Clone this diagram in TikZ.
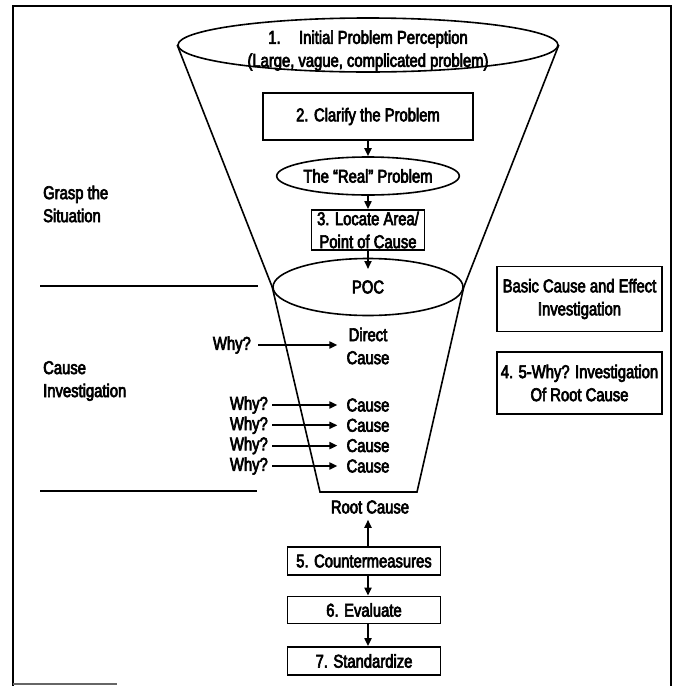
\documentclass[tikz,border=0pt]{standalone}
\usepackage{fontspec}
\setmainfont{Liberation Sans}[FakeStretch=0.80,FakeBold=3.5]
\usetikzlibrary{shapes.geometric,arrows.meta}
\begin{document}
\begin{tikzpicture}[x=1pt,y=-1pt,
  every node/.style={font=\fontsize{18.5}{23}\selectfont, inner sep=0pt, align=center},
  outline/.style={line width=1.6pt},
  stepbox/.style={draw, line width=1.7pt, rectangle},
  oval/.style={draw, line width=1.6pt, ellipse},
  arr/.style={line width=1.8pt, -{Triangle[length=8pt,width=7pt]}},
  whyarr/.style={arr, shorten <=4pt, shorten >=9pt},
  sep/.style={line width=2pt},
  frame/.style={line width=2.8pt},
  side/.style={align=left, anchor=west}]
\useasboundingbox (0,0) rectangle (679,686);

% outer frame
\draw[frame] (13,686) -- (13,6) -- (671,6) -- (671,686);
\draw[line width=1.6pt, black!60] (13,684) -- (117,684);

% vertical axis of the funnel
\coordinate (axis) at (368,0);

% mouth of the funnel
\node[oval, minimum width=380pt, minimum height=54pt] (top) at (368,45) {};
\node (toptext) at (368,50.5) {1.\quad Initial Problem Perception\\(Large, vague, complicated problem)};

% upper steps
\node[stepbox, minimum width=210pt, minimum height=47pt] (clarify) at (368,116.5) {2. Clarify the Problem};
\node[oval, minimum width=166pt, minimum height=38pt] (real) at (368,176) {The ``Real'' Problem};
\node[stepbox, minimum width=113pt, minimum height=40pt] (locate) at (368,230) {3. Locate Area/\\Point of Cause};
\node[oval, minimum width=190pt, minimum height=57pt] (poc) at (368,287) {POC};
\coordinate (pocin) at (368,269);

% funnel walls
\coordinate (bl) at (320,492);
\coordinate (br) at (417,492);
\draw[outline] (top.west) -- (poc.west);
\draw[outline] (top.east) -- (poc.east);
\draw[outline] (poc.west) -- (bl) -- (br) -- (poc.east);

\draw[arr] (clarify.south) -- (real.north);
\draw[arr] (real.south) -- (locate.north);
\draw[arr] (locate.south) -- (pocin);

% phase labels and separators
\node[side] (grasp) at (43,204) {Grasp the\\Situation};
\node[side] (causeinv) at (43,381) {Cause\\Investigation};
\draw[sep] (40,286) -- (258,286);
\draw[sep] (40,491) -- (257,491);

% why chain
\node[anchor=east] (w0) at (251,345) {Why?};
\node (dc) at (368,346) {Direct\\Cause};
\draw[whyarr, shorten <=7pt] (w0.east) -- (dc.west |- w0.east);
\foreach \i/\y in {1/405,2/425.3,3/445.6,4/466}{
  \node[anchor=east] (w\i) at (268,\y) {Why?};
  \node (c\i) at (368,\y) {Cause};
  \draw[whyarr] (w\i.east) -- (c\i.west |- w\i.east);
}

% side notes
\node[stepbox, minimum width=165pt, minimum height=65pt] (basic) at (579.5,299) {Basic Cause and Effect\\Investigation};
\node[stepbox, minimum width=165pt, minimum height=62pt] (five) at (579.5,383) {4. 5-Why? Investigation\\Of Root Cause};

% lower steps
\node (root) at (370,507) {Root Cause};
\node[stepbox, minimum width=153pt, minimum height=28pt] (cm) at (364,561) {5. Countermeasures};
\node[stepbox, minimum width=153pt, minimum height=27pt] (ev) at (364,610) {6. Evaluate};
\node[stepbox, minimum width=153pt, minimum height=28pt] (std) at (364,661) {7. Standardize};
\draw[arr, shorten >=6pt] (cm.north -| axis) -- (root.south -| axis);
\draw[arr] (cm.south -| axis) -- (ev.north -| axis);
\draw[arr] (ev.south -| axis) -- (std.north -| axis);
\end{tikzpicture}
\end{document}
